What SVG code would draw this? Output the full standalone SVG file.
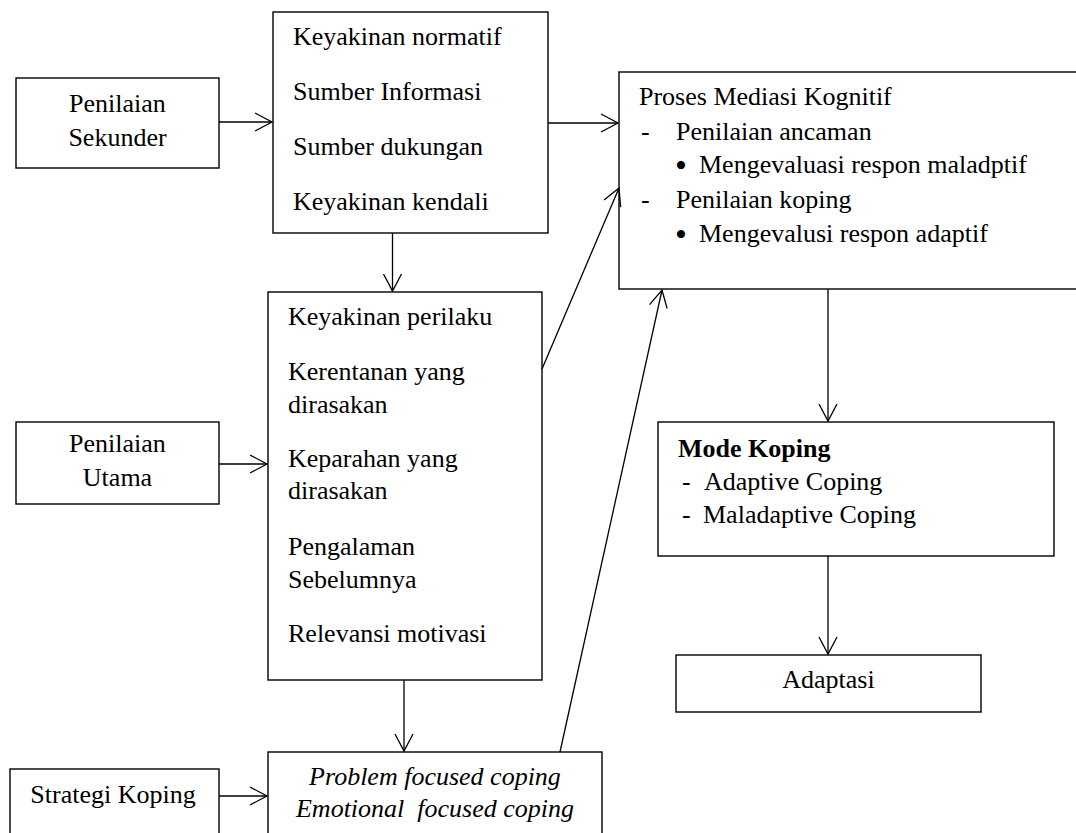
<svg xmlns="http://www.w3.org/2000/svg" width="1076" height="833" viewBox="0 0 1076 833">
<style>
.box{fill:#fff;stroke:#000;stroke-width:1.4}
.t{font-family:"Liberation Serif","Times New Roman",serif;font-size:26px;fill:#000}
.c{text-anchor:middle}
.i{font-style:italic}
.b{font-weight:bold}
.bu{font-size:34px}
.ln{fill:none;stroke:#000;stroke-width:1.3;marker-end:url(#ah)}
</style>
<defs>
<marker id="ah" viewBox="-19 -11 21 22" refX="0" refY="0" markerWidth="21" markerHeight="22" markerUnits="userSpaceOnUse" orient="auto" overflow="visible">
<path d="M-17,-9 L0,0 L-17,9" fill="none" stroke="#000" stroke-width="1.3"/>
</marker>
</defs>
<rect width="1076" height="833" fill="#fff"/>
<g id="sekunder">
<rect class="box" x="16" y="78" width="203" height="90"/>
<text class="t c" x="117.5" y="112">Penilaian</text>
<text class="t c" x="117.5" y="146">Sekunder</text>
</g>
<g id="keyakinan">
<rect class="box" x="273" y="12" width="275" height="221"/>
<text class="t" x="293" y="45">Keyakinan normatif</text>
<text class="t" x="293" y="100">Sumber Informasi</text>
<text class="t" x="293" y="155">Sumber dukungan</text>
<text class="t" x="293" y="210">Keyakinan kendali</text>
</g>
<g id="proses">
<rect class="box" x="619" y="72" width="460" height="217"/>
<text class="t" x="639" y="105">Proses Mediasi Kognitif</text>
<text class="t" x="641" y="140">-</text>
<text class="t" x="676" y="140">Penilaian ancaman</text>
<text class="t bu" x="675" y="177">•</text>
<text class="t" x="699" y="173">Mengevaluasi respon maladptif</text>
<text class="t" x="641" y="208">-</text>
<text class="t" x="676" y="208">Penilaian koping</text>
<text class="t bu" x="675" y="246">•</text>
<text class="t" x="699" y="242">Mengevalusi respon adaptif</text>
</g>
<g id="utama">
<rect class="box" x="16" y="422" width="203" height="82"/>
<text class="t c" x="117.5" y="452">Penilaian</text>
<text class="t c" x="117.5" y="486">Utama</text>
</g>
<g id="perilaku">
<rect class="box" x="268" y="292" width="274" height="388"/>
<text class="t" x="288" y="325">Keyakinan perilaku</text>
<text class="t" x="288" y="380">Kerentanan yang</text>
<text class="t" x="288" y="413">dirasakan</text>
<text class="t" x="288" y="467">Keparahan yang</text>
<text class="t" x="288" y="499">dirasakan</text>
<text class="t" x="288" y="555">Pengalaman</text>
<text class="t" x="288" y="588">Sebelumnya</text>
<text class="t" x="288" y="642">Relevansi motivasi</text>
</g>
<g id="mode">
<rect class="box" x="658" y="422" width="396" height="134"/>
<text class="t b" x="678" y="457">Mode Koping</text>
<text class="t" x="682" y="490">-</text>
<text class="t" x="704" y="490">Adaptive Coping</text>
<text class="t" x="682" y="523">-</text>
<text class="t" x="703" y="523">Maladaptive Coping</text>
</g>
<g id="adaptasi">
<rect class="box" x="676" y="655" width="305" height="57"/>
<text class="t c" x="828.5" y="688">Adaptasi</text>
</g>
<g id="strategi">
<rect class="box" x="10" y="769" width="209" height="80"/>
<text class="t c" x="113" y="803">Strategi Koping</text>
</g>
<g id="coping">
<rect class="box" x="268" y="752" width="334" height="100"/>
<text class="t c i" x="435" y="785">Problem focused coping</text>
<text class="t c i" x="435" y="817">Emotional&#160; focused coping</text>
</g>
<g id="connectors">
<line class="ln" x1="219" y1="122" x2="272" y2="122"/>
<line class="ln" x1="548" y1="123" x2="618" y2="123"/>
<line class="ln" x1="392.5" y1="233" x2="392.5" y2="291"/>
<line class="ln" x1="219" y1="464" x2="267" y2="464"/>
<line class="ln" x1="404" y1="680" x2="404" y2="751"/>
<line class="ln" x1="219" y1="796" x2="267" y2="796"/>
<line class="ln" x1="542" y1="369" x2="619" y2="188"/>
<line class="ln" x1="560" y1="752" x2="662" y2="290"/>
<line class="ln" x1="828" y1="289" x2="828" y2="421"/>
<line class="ln" x1="828" y1="556" x2="828" y2="654"/>
</g>
</svg>
